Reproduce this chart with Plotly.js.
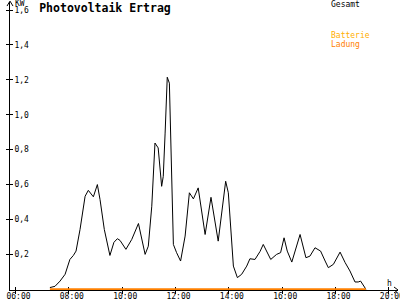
<!DOCTYPE html>
<html>
<head>
<meta charset="utf-8">
<script src="https://cdn.plot.ly/plotly-3.0.1.min.js"></script>
<style>html,body{margin:0;padding:0;background:#fff}#chart{width:400px;height:300px}</style>
</head>
<body>
<div id="chart"></div>
<script>
// Time in hours of the day
const hours = [7.29,7.48,7.67,7.86,8.04,8.17,8.27,8.42,8.61,8.73,8.92,9.07,9.17,9.33,9.54,9.69,9.82,9.92,10.14,10.36,10.61,10.73,10.86,10.98,11.11,11.23,11.35,11.48,11.54,11.61,11.69,11.77,11.83,11.92,12.04,12.19,12.36,12.52,12.67,12.85,13.11,13.33,13.60,13.88,13.98,14.17,14.32,14.48,14.67,14.79,14.98,15.17,15.29,15.57,15.79,15.94,16.07,16.19,16.36,16.67,16.89,17.04,17.23,17.44,17.61,17.73,17.92,18.17,18.36,18.54,18.73,18.85,18.94,19.14];
// Gesamt (kW)
const gesamt = [0.01,0.017,0.047,0.086,0.171,0.194,0.219,0.343,0.533,0.567,0.53,0.6,0.514,0.343,0.194,0.269,0.29,0.28,0.229,0.286,0.377,0.286,0.2,0.247,0.476,0.838,0.81,0.59,0.647,0.895,1.215,1.181,0.743,0.257,0.21,0.162,0.305,0.553,0.518,0.581,0.314,0.527,0.276,0.619,0.553,0.133,0.067,0.086,0.133,0.175,0.171,0.217,0.257,0.171,0.2,0.21,0.295,0.219,0.156,0.314,0.181,0.19,0.238,0.219,0.162,0.124,0.143,0.213,0.153,0.105,0.042,0.042,0.047,0];
// Batterie Ladung (kW)
const ladungHours = [7.29, 19.14];
const ladung = [0, 0];

const seriesNames = ["Gesamt", "Batterie", "Ladung"];
const seriesColors = ["#000000", "#ffae00", "#ff8000"];
const titleText = "Photovoltaik Ertrag";
const unitText = "KW";
const xUnitText = "h";

const xTickVals = [6, 8, 10, 12, 14, 16, 18, 20];
const xTickText = ["06:00", "08:00", "10:00", "12:00", "14:00", "16:00", "18:00", "20:00"];
const yTickVals = [0.2, 0.4, 0.6, 0.8, 1.0, 1.2, 1.4, 1.6];
const yTickText = ["0,2", "0,4", "0,6", "0,8", "1,0", "1,2", "1,4", "1,6"];

const mono = "DejaVu Sans Mono";
const xRange = [5.794, 20.342];
const yRange = [-0.004, 1.646];

const traces = [
  {x: hours, y: gesamt, type: "scatter", mode: "lines", line: {color: seriesColors[0], width: 1}, hoverinfo: "skip"},
  {x: ladungHours, y: ladung, type: "scatter", mode: "lines", line: {color: seriesColors[2], width: 2}, hoverinfo: "skip"},
  {x: [], y: [], xaxis: "x2", yaxis: "y2", type: "scatter", mode: "lines", hoverinfo: "skip"}
];

const axisCommon = {showgrid: false, zeroline: false, automargin: false, fixedrange: true};

const layout = {
  width: 400, height: 300,
  margin: {l: 10, r: 2, t: 2, b: 10, pad: 0},
  paper_bgcolor: "#ffffff", plot_bgcolor: "#ffffff",
  showlegend: false,
  title: {text: titleText, x: 0.098, xanchor: "left", y: 0.975, yanchor: "middle", xref: "container", yref: "container",
          font: {family: mono, size: 11.5, color: "#000", weight: "bold"}},
  xaxis: Object.assign({}, axisCommon, {range: xRange, showline: true, linecolor: "#000", linewidth: 1, layer: "below traces",
          tickmode: "array", tickvals: xTickVals, ticktext: xTickText, ticks: "inside", ticklen: 3, tickcolor: "#000",
          ticklabeloverflow: "allow", ticklabelstandoff: -2,
          tickfont: {family: mono, size: 8, color: "#000"}, ticklabelshift: 3}),
  yaxis: Object.assign({}, axisCommon, {range: yRange, showline: true, linecolor: "#000", linewidth: 1, layer: "below traces",
          tickmode: "array", tickvals: yTickVals, ticktext: yTickText, ticks: "outside", ticklen: 3, tickcolor: "#000",
          ticklabelposition: "inside", ticklabelstandoff: 3, ticklabeloverflow: "allow",
          tickfont: {family: mono, size: 8, color: "#000"}}),
  xaxis2: Object.assign({}, axisCommon, {range: xRange, overlaying: "x", anchor: "y2", showline: false,
          tickmode: "array", tickvals: xTickVals, ticks: "outside", ticklen: 3, tickcolor: "#000", showticklabels: false}),
  yaxis2: Object.assign({}, axisCommon, {range: yRange, overlaying: "y", anchor: "x2", side: "left", showline: false,
          tickmode: "array", tickvals: yTickVals, ticks: "inside", ticklen: 3, tickcolor: "#000", showticklabels: false}),
  shapes: [
    {type: "path", xref: "paper", yref: "paper", path: "M 0.9897 0.0104 L 1.0 0 L 0.9897 -0.0104", line: {color: "#000", width: 1}},
    {type: "path", xref: "paper", yref: "paper", path: "M -0.0077 0.986 L 0 1.003 L 0.0077 0.986", line: {color: "#000", width: 1}}
  ],
  annotations: [
    {text: unitText, xref: "paper", yref: "paper", x: 0.009, y: 0.994, xanchor: "left", yanchor: "middle", showarrow: false,
     font: {family: mono, size: 8, color: "#000"}},
    {text: xUnitText, xref: "paper", yref: "paper", x: 0.966, y: 0.022, xanchor: "left", yanchor: "middle", showarrow: false,
     font: {family: mono, size: 8, color: "#000"}},
    {text: seriesNames[0], xref: "paper", yref: "paper", x: 0.822, y: 0.991, xanchor: "left", yanchor: "middle", showarrow: false,
     font: {family: mono, size: 8, color: seriesColors[0]}},
    {text: seriesNames[1], xref: "paper", yref: "paper", x: 0.822, y: 0.882, xanchor: "left", yanchor: "middle", showarrow: false,
     font: {family: mono, size: 8, color: seriesColors[1]}},
    {text: seriesNames[2], xref: "paper", yref: "paper", x: 0.822, y: 0.854, xanchor: "left", yanchor: "middle", showarrow: false,
     font: {family: mono, size: 8, color: seriesColors[2]}}
  ]
};

Plotly.newPlot("chart", traces, layout, {displayModeBar: false, staticPlot: true});
</script>
</body>
</html>
